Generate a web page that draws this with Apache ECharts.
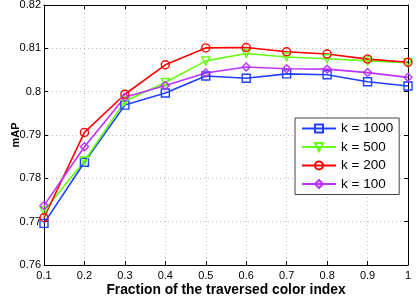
<!DOCTYPE html>
<html>
<head>
<meta charset="utf-8">
<script src="https://cdn.jsdelivr.net/npm/echarts@6/dist/echarts.min.js"></script>
<style>
  html, body { margin: 0; padding: 0; background: #fff; }
  #chart { width: 419px; height: 298px; }
</style>
</head>
<body>
<div id="chart"></div>
<script>
// x 轴刻度
var fractions = ['0.1', '0.2', '0.3', '0.4', '0.5', '0.6', '0.7', '0.8', '0.9', '1'];
// 各 k 的 mAP
var k1000 = [0.7696, 0.7837, 0.7969, 0.7997, 0.8036, 0.8031, 0.8041, 0.8039, 0.8023, 0.8013];
var k500  = [0.7725, 0.7840, 0.7978, 0.8021, 0.8071, 0.8088, 0.8080, 0.8076, 0.8071, 0.8067];
var k200  = [0.7709, 0.7906, 0.7994, 0.8062, 0.8101, 0.8102, 0.8092, 0.8087, 0.8075, 0.8068];
var k100  = [0.7737, 0.7873, 0.7987, 0.8014, 0.8043, 0.8057, 0.8053, 0.8052, 0.8044, 0.8033];
var seriesNames = ['k = 1000', 'k = 500', 'k = 200', 'k = 100'];

var font = 'Liberation Sans, Arial, sans-serif';

function makeSeries(name, data, color, symbol, rotate) {
  return {
    name: name,
    type: 'line',
    data: data,
    symbol: symbol,
    symbolSize: 8,
    symbolRotate: rotate || 0,
    clip: false,
    lineStyle: { color: color, width: 1.6 },
    itemStyle: { color: 'rgba(255,255,255,0)', borderColor: color, borderWidth: 1.4 },
    emphasis: { disabled: true }
  };
}

var chart = echarts.init(document.getElementById('chart'));
chart.setOption({
  animation: false,
  grid: { left: 44, right: 11, top: 5, bottom: 33, outerBoundsMode: 'none', containLabel: false },
  legend: {
    data: seriesNames,
    orient: 'vertical',
    left: 295,
    top: 118,
    itemWidth: 34,
    itemHeight: 10,
    itemGap: 4.5,
    padding: [3.5, 6, 3.5, 6],
    backgroundColor: '#fff',
    borderColor: '#444',
    borderWidth: 1,
    textStyle: { fontFamily: font, fontSize: 13.5, lineHeight: 14, color: '#000' }
  },
  xAxis: [
    {
      type: 'category',
      data: fractions,
      boundaryGap: false,
      name: 'Fraction of the traversed color index',
      nameLocation: 'middle',
      nameGap: 18,
      nameMoveOverlap: false,
      nameTextStyle: { fontFamily: font, fontSize: 13.8, fontWeight: 'bold', color: '#000' },
      axisLine: { lineStyle: { color: '#000', width: 1 } },
      axisTick: { inside: true, length: 4, alignWithLabel: true, lineStyle: { color: '#000' } },
      axisLabel: { fontFamily: font, fontSize: 11, color: '#000', margin: 5, interval: 0 },
      splitLine: { show: true, interval: 0, lineStyle: { color: '#bbb', type: [1, 3] } }
    },
    {
      type: 'category',
      data: fractions,
      boundaryGap: false,
      position: 'top',
      axisLine: { lineStyle: { color: '#000', width: 1 } },
      axisTick: { inside: true, length: 4, alignWithLabel: true, interval: 0, lineStyle: { color: '#000' } },
      axisLabel: { show: false },
      splitLine: { show: false }
    }
  ],
  yAxis: [
    {
      type: 'value',
      min: 0.76,
      max: 0.82,
      interval: 0.01,
      name: 'mAP',
      nameLocation: 'middle',
      nameGap: 23,
      nameMoveOverlap: false,
      nameTextStyle: { fontFamily: font, fontSize: 11, fontWeight: 'bold', color: '#000' },
      axisLine: { show: true, lineStyle: { color: '#000', width: 1 } },
      axisTick: { show: true, inside: true, length: 4, lineStyle: { color: '#000' } },
      axisLabel: {
        fontFamily: font, fontSize: 11, color: '#000', margin: 3,
        formatter: function (v) { return String(+v.toFixed(2)); }
      },
      splitLine: { show: true, lineStyle: { color: '#bbb', type: [1, 3] } }
    },
    {
      type: 'value',
      min: 0.76,
      max: 0.82,
      interval: 0.01,
      position: 'right',
      axisLine: { show: true, lineStyle: { color: '#000', width: 1 } },
      axisTick: { show: true, inside: true, length: 4, lineStyle: { color: '#000' } },
      axisLabel: { show: false },
      splitLine: { show: false }
    }
  ],
  series: [
    makeSeries(seriesNames[0], k1000, '#2040ff', 'rect'),
    makeSeries(seriesNames[1], k500, '#66ff11', 'triangle', 180),
    makeSeries(seriesNames[2], k200, '#ff0000', 'circle'),
    makeSeries(seriesNames[3], k100, '#bb33ff', 'diamond')
  ]
});
</script>
</body>
</html>
